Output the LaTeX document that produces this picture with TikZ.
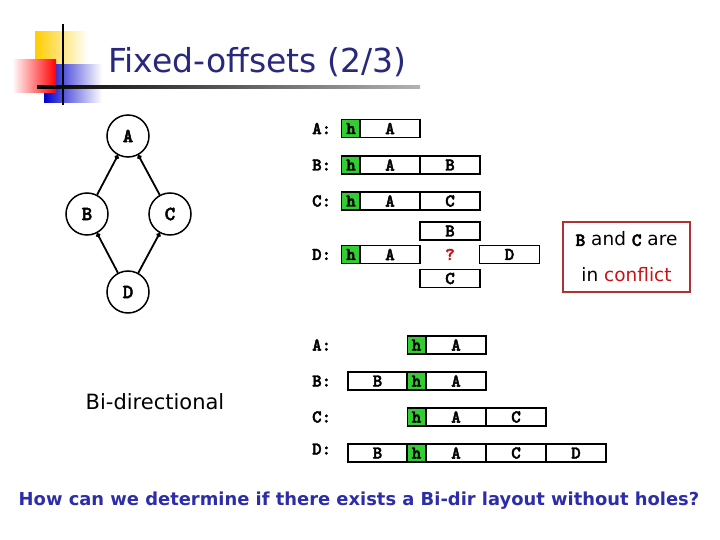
\documentclass[tikz,border=0pt]{standalone}
\usepackage{fontspec}
\setmainfont{DejaVu Sans}
\newfontfamily\monob{lmmonolt10-bold.otf}[FakeBold=2.5]
\usetikzlibrary{arrows.meta}
\definecolor{titleblue}{RGB}{40,40,125}
\definecolor{qblue}{RGB}{45,45,170}
\definecolor{hgreen}{RGB}{50,205,50}
\definecolor{conflictred}{RGB}{200,20,20}
\definecolor{boxred}{RGB}{175,50,50}
\definecolor{decoyellow}{RGB}{255,205,0}
\tikzset{
  cell/.style={draw, line width=1.3pt, minimum height=18pt, minimum width=60pt, inner sep=0pt, font=\monob\fontsize{18}{18}\selectfont},
  hcell/.style={cell, fill=hgreen, minimum width=18.5pt},
  rowlab/.style={anchor=west, inner sep=0pt, font=\monob\fontsize{18}{18}\selectfont},
  vert/.style={circle, draw, line width=1.5pt, minimum size=42pt, inner sep=0pt, font=\monob\fontsize{20}{20}\selectfont},
  edge/.style={line width=1.8pt, -{Circle[length=4.5pt]}}
}
\begin{document}
\begin{tikzpicture}[x=1pt,y=-1pt]
\useasboundingbox (0,0) rectangle (720,540);
\fill[white] (0,0) rectangle (720,540);
% decoration
\shade[left color=decoyellow, right color=white] (35,32) rectangle (88,64);
\shade[left color=blue!80!black, right color=white] (44,65) rectangle (102,103);
\shade[left color=white, right color=red] (12,60) rectangle (56,93);
\draw[line width=2pt] (63,24) -- (63,105);
\shade[left color=black, right color=white!70!black] (37,86) rectangle (420,88.5);
\node[anchor=west, inner sep=0pt, text=titleblue, font=\fontsize{33}{33}\selectfont] (title) at (108,62) {Fixed-offsets (2/3)};
% graph
\node[vert] (A) at (128,136) {A};
\node[vert] (B) at (87,214) {B};
\node[vert] (C) at (170,214) {C};
\node[vert] (D) at (128,292) {D};
\draw[edge] (B) -- (A);
\draw[edge] (C) -- (A);
\draw[edge] (D) -- (B);
\draw[edge] (D) -- (C);
\node[font=\fontsize{21}{21}\selectfont] (bidir) at (155,402) {Bi-directional};
% top table
\node[rowlab] (la1) at (312,128.5) {A:};
\node[hcell] (h1) at (351,128.5) {h};
\node[cell] (a1) at (390,128.5) {A};
\node[rowlab] (lb1) at (312,165) {B:};
\node[hcell] (h2) at (351,165) {h};
\node[cell] (a2) at (390,165) {A};
\node[cell] (b2) at (450,165) {B};
\node[rowlab] (lc1) at (312,201) {C:};
\node[hcell] (h3) at (351,201) {h};
\node[cell] (a3) at (390,201) {A};
\node[cell] (c3) at (450,201) {C};
\node[rowlab] (ld1) at (312,254.5) {D:};
\node[hcell] (h4) at (351,254.5) {h};
\node[cell] (a4) at (390,254.5) {A};
\node[cell] (b4) at (450,231) {B};
\node[cell] (c4) at (450,278.5) {C};
\node[text=conflictred, font=\monob\fontsize{18}{18}\selectfont] (q) at (450,254.5) {?};
\node[cell] (d4) at (509.5,254.5) {D};
% conflict box
\node[draw=boxred, line width=1.5pt, minimum width=127pt, minimum height=70pt, inner sep=0pt, align=center, font=\fontsize{18.5}{36}\selectfont] (conf) at (626.5,257)
  {{\monob B} and {\monob C} are\\in \textcolor{conflictred}{conflict}};
% bottom table
\node[rowlab] (la2) at (312,345) {A:};
\node[hcell] (hh1) at (416.5,345) {h};
\node[cell] (aa1) at (456,345) {A};
\node[rowlab] (lb2) at (312,381) {B:};
\node[cell, minimum width=59pt] (bb2) at (377.5,381) {B};
\node[hcell] (hh2) at (416.5,381) {h};
\node[cell] (aa2) at (456,381) {A};
\node[rowlab] (lc2) at (312,417) {C:};
\node[hcell] (hh3) at (416.5,417) {h};
\node[cell] (aa3) at (456,417) {A};
\node[cell] (cc3) at (516,417) {C};
\node[rowlab] (ld2) at (312,449) {D:};
\node[cell, minimum width=59pt] (bb4) at (377.5,453) {B};
\node[hcell] (hh4) at (416.5,453) {h};
\node[cell] (aa4) at (456,453) {A};
\node[cell] (cc4) at (516,453) {C};
\node[cell] (dd4) at (576,453) {D};
% question
\node[text=qblue, font=\bfseries\fontsize{17.9}{18}\selectfont] (question) at (359,501) {How can we determine if there exists a Bi-dir layout without holes?};
\end{tikzpicture}
\end{document}
